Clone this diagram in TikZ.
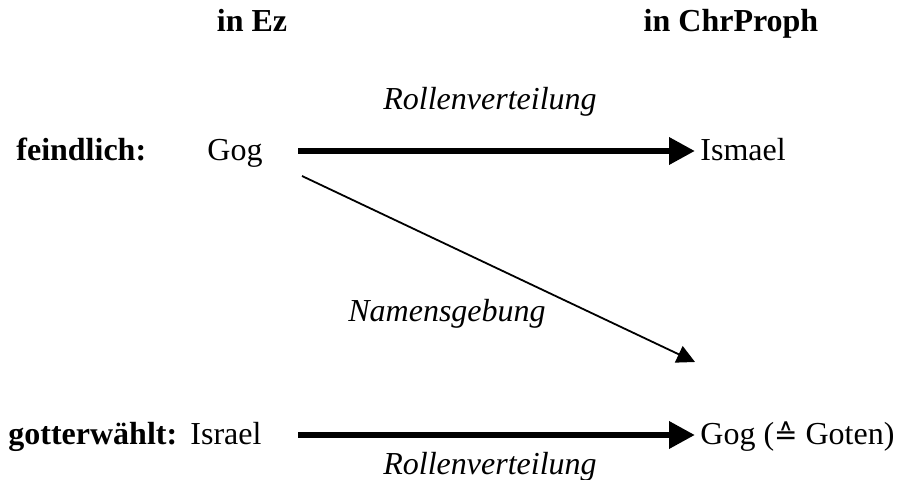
\documentclass[tikz,border=0pt]{standalone}
\usepackage{fontspec}
\setmainfont{Liberation Serif}
\newfontfamily\symfont{DejaVu Sans}
\usetikzlibrary{arrows.meta}
\tikzset{rolle/.style={line width=3.3pt,-{Triangle[length=13pt,width=13pt]}},
	namen/.style={line width=0.9pt,-{Triangle[length=9pt,width=9pt]}},
	lbl/.style={inner sep=0pt,anchor=base}}

\begin{document}
\begin{tikzpicture}[x=0.5pt,y=-0.5pt,font=\fontsize{16}{19}\selectfont]
	\useasboundingbox (0,0) rectangle (905,480);
	% Spaltenkoepfe
	\node[lbl] (ez) at (252,32) {\bfseries in Ez};
	\node[lbl] (chr) at (731,32) {\bfseries in ChrProph};
	% feindlich
	\node[lbl,anchor=base west] (feind) at (16,161) {\bfseries feindlich:};
	\node[lbl,anchor=base west] (gog) at (207,161) {Gog};
	\node[lbl,anchor=base west] (ismael) at (700,161) {Ismael};
	% gotterwaehlt
	\node[lbl,anchor=base west] (gotter) at (8,445) {\bfseries gotterwählt:};
	\node[lbl,anchor=base west] (israel) at (190,445) {Israel};
	\node[lbl,anchor=base west] (goten) at (700,445) {Gog ({\symfont\fontsize{14}{16}\selectfont ≙} Goten)};
	% Pfeile
	\coordinate (a1) at (298,151);
	\coordinate (a2) at (695,151);
	\coordinate (b1) at (302,176);
	\coordinate (b2) at (695,362);
	\coordinate (c1) at (298,435);
	\coordinate (c2) at (695,435);
	\draw[rolle] (a1)--(a2);
	\draw[namen] (b1)--(b2);
	\draw[rolle] (c1)--(c2);
	\node[lbl,font=\fontsize{16}{19}\selectfont\itshape] (rv1) at (490,110) {Rollenverteilung};
	\node[lbl,font=\fontsize{16}{19}\selectfont\itshape] (ng) at (447,322) {Namensgebung};
	\node[lbl,font=\fontsize{16}{19}\selectfont\itshape] (rv2) at (490,474) {Rollenverteilung};
\end{tikzpicture}
\end{document}
